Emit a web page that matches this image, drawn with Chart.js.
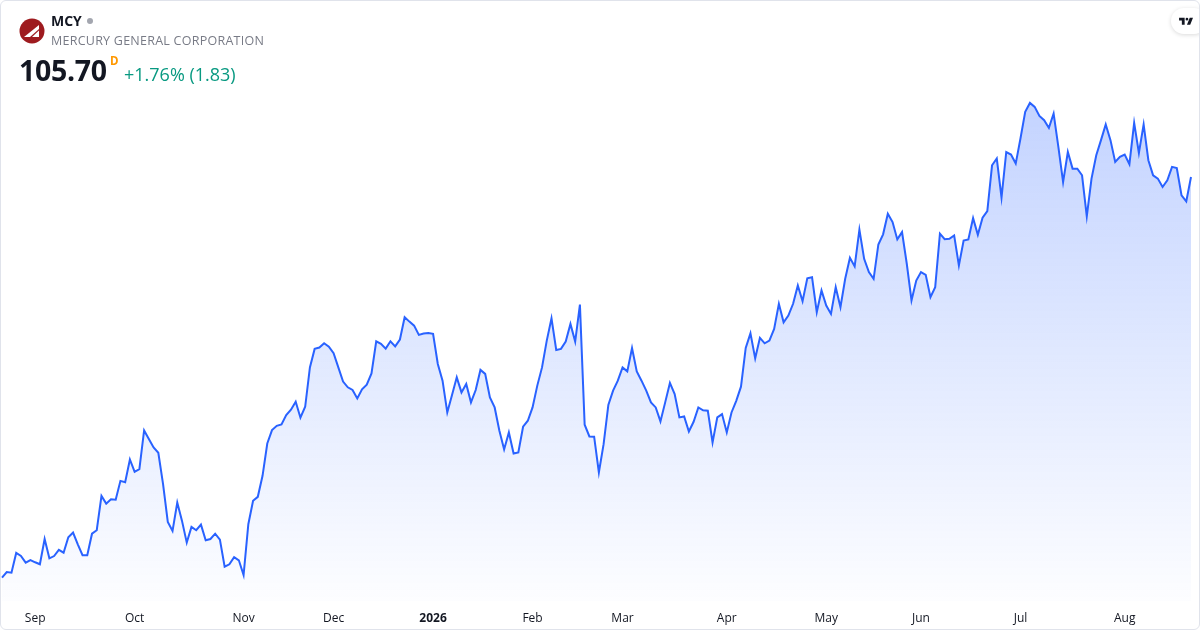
<!DOCTYPE html>
<html>
<head>
<meta charset="utf-8">
<script src="https://cdn.jsdelivr.net/npm/chart.js@4.4.1/dist/chart.umd.min.js"></script>
<style>
  html, body { margin: 0; padding: 0; background: #fff; }
  #card {
    position: relative; width: 1198px; height: 628px;
    border: 1px solid #e0e3eb; border-radius: 6px; overflow: hidden;
    font-family: "Open Sans", "Noto Sans", sans-serif; background: #fff;
  }
  #chart { position: absolute; left: 0; top: 0; }
  .abs { position: absolute; white-space: nowrap; }
  #sym { left: 50px; top: 10px; font-size: 14px; font-weight: 700; color: #131722; }
  #dot { left: 86px; top: 17px; width: 6px; height: 6px; border-radius: 50%; background: #a3a6af; }
  #name { left: 50px; top: 31px; font-size: 12.5px; color: #787b86; letter-spacing: 0.25px; }
  #price { left: 18px; top: 50px; font-size: 28.5px; font-weight: 700; color: #131722; letter-spacing: -0.3px; }
  #d { left: 109px; top: 52px; font-size: 11.5px; font-weight: 700; color: #ff9800; }
  #chg { left: 123px; top: 61px; font-size: 18px; color: #089981; }
  #tv {
    right: -8px; top: 7px; width: 36px; height: 26px; background: #fff;
    border-radius: 13px; box-shadow: 0 1px 4px rgba(0,0,0,0.15);
  }
</style>
</head>
<body>
<div id="card">
  <canvas id="chart" width="1198" height="628"></canvas>
  <svg class="abs" style="left:18px;top:17px" width="26" height="26" viewBox="0 0 26 26">
    <circle cx="13" cy="13" r="12.5" fill="#9e1b1f"/>
    <polygon points="5,19 20,7 20,19" fill="#fff"/>
    <polygon points="11,19 20,11 20,12.6 13,19" fill="#9e1b1f"/>
  </svg>
  <div class="abs" id="sym">MCY</div>
  <div class="abs" id="dot"></div>
  <div class="abs" id="name">MERCURY GENERAL CORPORATION</div>
  <div class="abs" id="price">105.70</div>
  <div class="abs" id="d">D</div>
  <div class="abs" id="chg">+1.76% (1.83)</div>
  <div class="abs" id="tv">
    <svg style="position:absolute;left:7px;top:7px" width="17" height="13" viewBox="0 0 36 28">
      <path fill="#131722" d="M14 6H2v6h6v9h6V6Zm12 15h-7l6-15h7l-6 15Zm-7-9a3 3 0 1 0 0-6 3 3 0 0 0 0 6Z"/>
    </svg>
  </div>
</div>
<script>
// daily closes
const prices = [
  75.58, 76.01, 75.96, 77.44, 77.21, 76.71, 76.91, 76.74, 76.59, 78.49,
  77.04, 77.21, 77.67, 77.46, 78.62, 78.97, 78.09, 77.27, 77.27, 78.89,
  79.15, 81.73, 81.15, 81.48, 81.45, 82.86, 82.76, 84.47, 83.54, 83.74,
  86.65, 86.00, 85.37, 84.97, 82.61, 79.77, 79.10, 81.23, 79.85, 78.22,
  79.40, 79.15, 79.57, 78.40, 78.49, 78.89, 78.44, 76.41, 76.59, 77.12,
  76.89, 75.78, 79.60, 81.36, 81.66, 83.24, 85.67, 86.68, 87.00, 87.10,
  87.81, 88.21, 88.81, 87.61, 88.43, 91.39, 92.78, 92.88, 93.20, 92.95,
  92.45, 91.39, 90.32, 89.89, 89.69, 89.06, 89.74, 90.09, 90.94, 93.35,
  93.16, 92.80, 93.35, 92.97, 93.48, 95.16, 94.83, 94.53, 93.83, 93.93,
  93.98, 93.91, 91.65, 90.39, 88.00, 89.31, 90.64, 89.51, 90.14, 88.76,
  89.69, 91.20, 90.90, 89.13, 88.38, 86.63, 85.22, 86.50, 84.92, 85.00,
  86.93, 87.38, 88.38, 90.02, 91.39, 93.40, 95.08, 92.70, 92.78, 93.33,
  94.66, 93.33, 96.11, 87.08, 86.20, 86.18, 83.49, 85.62, 88.56, 89.64,
  90.39, 91.39, 91.09, 92.85, 91.09, 90.39, 89.64, 88.76, 88.38, 87.33,
  88.76, 90.22, 89.39, 87.63, 87.70, 86.57, 87.30, 88.38, 88.16, 88.13,
  85.75, 87.63, 87.88, 86.50, 88.00, 88.88, 89.94, 92.85, 93.95, 92.07,
  93.61, 93.20, 93.40, 94.28, 96.17, 94.78, 95.29, 96.17, 97.54, 96.36,
  98.09, 98.17, 95.54, 97.17, 96.04, 95.41, 97.42, 95.91, 98.05, 99.63,
  98.98, 101.74, 99.55, 98.55, 98.05, 100.63, 101.39, 102.94, 102.31, 101.01,
  101.56, 99.18, 96.42, 97.92, 98.55, 98.35, 96.67, 97.42, 101.44, 101.03,
  101.06, 101.31, 99.05, 100.93, 101.01, 102.61, 101.36, 102.64, 103.14, 106.58,
  107.09, 104.15, 107.58, 107.39, 106.71, 108.59, 110.60, 111.27, 110.97, 110.29,
  109.97, 109.39, 110.47, 107.96, 105.32, 107.58, 106.33, 106.33, 105.83, 102.74,
  105.58, 107.34, 108.47, 109.65, 108.47, 106.83, 107.21, 107.39, 106.66, 109.77,
  107.51, 109.65, 106.96, 105.83, 105.58, 104.95, 105.45, 106.46, 106.38, 104.32,
  103.87, 105.70
]
const days = prices.map((p, i) => i)

// month labels and the trading day they sit on
const tickLabels = ['Sep', 'Oct', 'Nov', 'Dec', '2026', 'Feb', 'Mar', 'Apr', 'May', 'Jun', 'Jul', 'Aug']
const tickIndex = [7, 28, 51, 70, 91, 112, 131, 153, 174, 194, 215, 237]

const ctx = document.getElementById('chart')

function areaFill(context) {
    const { ctx, chartArea } = context.chart
    if (!chartArea) return 'rgba(41, 98, 255, 0.1)'
    const g = ctx.createLinearGradient(0, 100, 0, chartArea.bottom)
    g.addColorStop(0, 'rgba(41, 98, 255, 0.28)')
    g.addColorStop(1, 'rgba(41, 98, 255, 0.01)')
    return g
}

new Chart(ctx, {
    type: 'line',
    data: {
        labels: days,
        datasets: [{
            data: prices,
            borderColor: '#2962ff',
            borderWidth: 2,
            backgroundColor: areaFill,
            fill: 'start',
            pointRadius: 0,
            tension: 0
        }]
    },
    options: {
        responsive: false,
        animation: false,
        devicePixelRatio: 1,
        layout: { padding: { left: 1, right: 8, top: 0, bottom: 0 } },
        plugins: { legend: { display: false }, tooltip: { enabled: false } },
        scales: {
            y: { display: false, min: 73.83, max: 118.93 },
            x: {
                grid: { display: false, drawTicks: false },
                border: { display: false },
                afterBuildTicks: (axis) => {
                    axis.ticks = tickIndex.map((v) => ({ value: v }))
                },
                afterFit: (axis) => { axis.height = 28 },
                ticks: {
                    autoSkip: false,
                    maxRotation: 0,
                    padding: 10,
                    color: '#131722',
                    font: (c) => ({
                        family: '"Open Sans", "Noto Sans", sans-serif',
                        size: 12,
                        weight: c.tick && c.tick.value === 91 ? 'bold' : 'normal'
                    }),
                    callback: function (value) {
                        return tickLabels[tickIndex.indexOf(value)]
                    }
                }
            }
        }
    }
})
</script>
</body>
</html>
